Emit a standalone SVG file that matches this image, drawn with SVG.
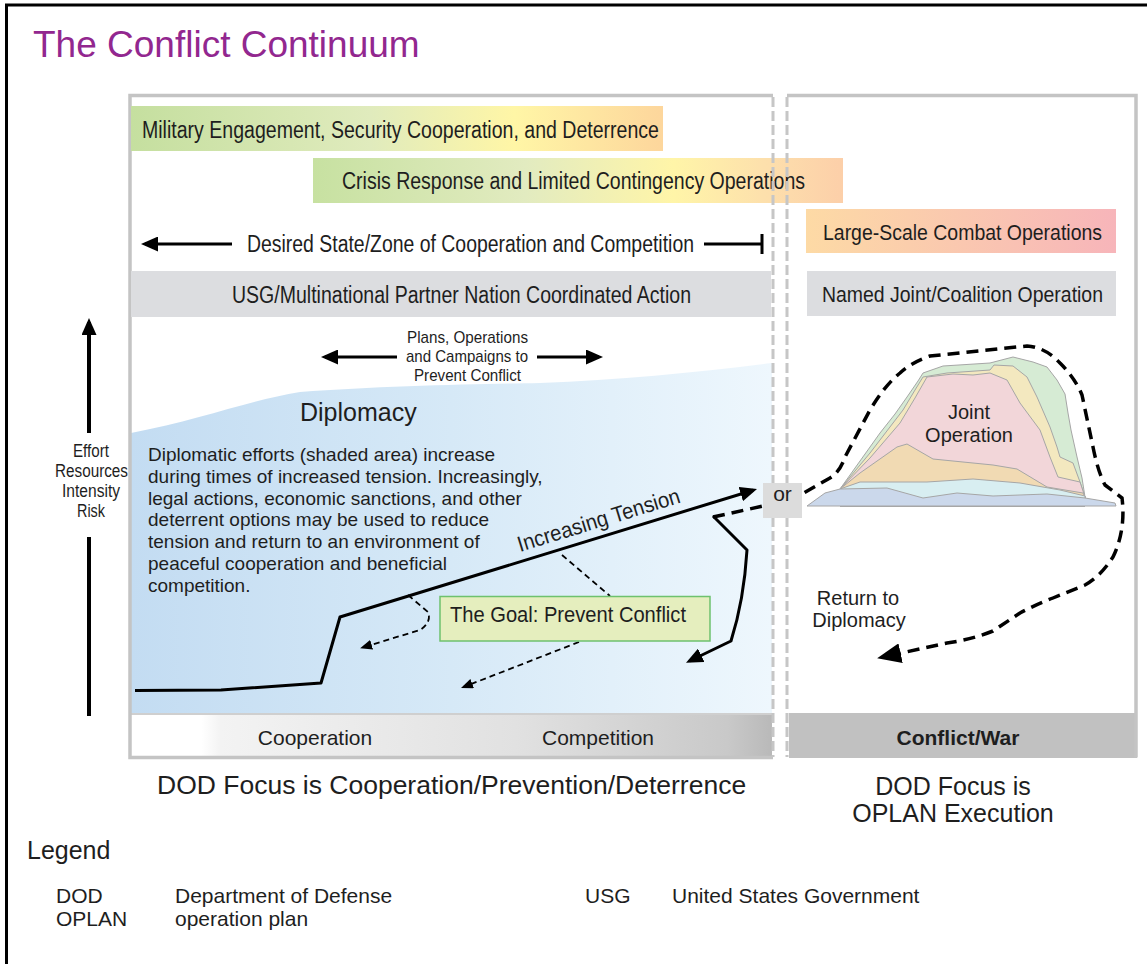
<svg xmlns="http://www.w3.org/2000/svg" width="1147" height="964" viewBox="0 0 1147 964">
<style>
.s{font-family:"Liberation Sans",Arial,Helvetica,sans-serif;fill:#1e1e1e}
.n{font-family:"Liberation Sans Narrow","Arial Narrow","Liberation Sans",Arial,sans-serif;fill:#1e1e1e}
.pb{fill:none;stroke:#c4c4c4;stroke-width:3.5}
.dv{fill:none;stroke:#c6c6c6;stroke-width:3;stroke-dasharray:10 4}
.sl{fill:none;stroke:#000;stroke-width:3;stroke-linejoin:round}
.ds{fill:none;stroke:#000;stroke-width:1.8;stroke-dasharray:6 4}
.lp{fill:none;stroke:#000;stroke-width:3.5;stroke-dasharray:12 7}
.ly{stroke:#a6a6a6;stroke-width:1}
</style>
<defs>
<linearGradient id="g1" x1="0" y1="0" x2="1" y2="0">
<stop offset="0" stop-color="#c5df9f"/><stop offset="0.45" stop-color="#e0ebbd"/><stop offset="0.72" stop-color="#fff6a6"/><stop offset="1" stop-color="#fdd69c"/>
</linearGradient>
<linearGradient id="g2" x1="0" y1="0" x2="1" y2="0">
<stop offset="0" stop-color="#c7e1a1"/><stop offset="0.4" stop-color="#e2ebc0"/><stop offset="0.68" stop-color="#fff5a8"/><stop offset="0.85" stop-color="#fde0ac"/><stop offset="1" stop-color="#fccfa9"/>
</linearGradient>
<linearGradient id="g3" x1="0" y1="0" x2="1" y2="0">
<stop offset="0" stop-color="#fddaa5"/><stop offset="1" stop-color="#f7b5ba"/>
</linearGradient>
<linearGradient id="gb" x1="0" y1="0" x2="1" y2="0">
<stop offset="0" stop-color="#c3dcf2"/><stop offset="0.5" stop-color="#d6e9f7"/><stop offset="1" stop-color="#eef7fd"/>
</linearGradient>
<linearGradient id="gg" x1="0" y1="0" x2="1" y2="0">
<stop offset="0" stop-color="#ffffff"/><stop offset="0.11" stop-color="#ffffff"/><stop offset="0.14" stop-color="#f3f3f3"/><stop offset="0.6" stop-color="#e1e1e1"/><stop offset="0.93" stop-color="#c9c9c9"/><stop offset="1" stop-color="#b9b9b9"/>
</linearGradient>
<marker id="ah" markerUnits="userSpaceOnUse" markerWidth="17" markerHeight="15" viewBox="0 0 17 15" refX="13" refY="7.5" orient="auto">
<path d="M0,0 L17,7.5 L0,15 Z" fill="#000"/>
</marker>
<marker id="ahs" markerUnits="userSpaceOnUse" markerWidth="12" markerHeight="10" viewBox="0 0 12 10" refX="9" refY="5" orient="auto">
<path d="M0,0 L12,5 L0,10 Z" fill="#000"/>
</marker>
<marker id="ahl" markerUnits="userSpaceOnUse" markerWidth="24" markerHeight="20" viewBox="0 0 24 20" refX="18" refY="10" orient="auto">
<path d="M0,0 L24,10 L0,20 Z" fill="#000"/>
</marker>
</defs>

<rect x="0" y="0" width="1147" height="964" fill="#ffffff"/>
<rect id="frame" x="6.5" y="5" width="1160" height="980" fill="none" stroke="#000" stroke-width="3"/>

<text id="title" class="s" x="33" y="57" font-size="37" style="fill:#92278f">The Conflict Continuum</text>

<g id="left-panel">
<path id="diplomacy-area" d="M131,433 C200,420 250,400 300,392 C380,386 480,384 540,383 C620,380 700,372 772,363 L772,713 L131,713 Z" fill="url(#gb)"/>
<rect x="131" y="713" width="641" height="44" fill="url(#gg)"/>
<line x1="131" y1="714" x2="772" y2="714" stroke="#cfcfcf" stroke-width="2"/>
<path class="pb" d="M773,95.5 L130,95.5 L130,757.5 L773,757.5"/>
<text class="s" x="315" y="745" font-size="21" text-anchor="middle">Cooperation</text>
<text class="s" x="598" y="745" font-size="21" text-anchor="middle">Competition</text>
</g>

<g id="right-panel">
<rect x="789" y="713" width="348" height="45" fill="#c1c1c1"/>
<path class="pb" d="M787,95.5 L1136,95.5 L1136,757.5"/>
<text class="s" x="958" y="745" font-size="21" font-weight="bold" text-anchor="middle">Conflict/War</text>
</g>

<g id="bar-military">
<rect x="131" y="106" width="532" height="45" fill="url(#g1)"/>
<text class="n" x="142" y="137.5" font-size="23" textLength="517" lengthAdjust="spacingAndGlyphs">Military Engagement, Security Cooperation, and Deterrence</text>
</g>
<g id="bar-crisis">
<rect x="313" y="158" width="530" height="45" fill="url(#g2)"/>
<text class="n" x="342" y="188.5" font-size="23" textLength="463" lengthAdjust="spacingAndGlyphs">Crisis Response and Limited Contingency Operations</text>
</g>
<g id="bar-usg">
<rect x="131" y="271" width="640" height="46" fill="#dcdde0"/>
<text class="n" x="232" y="302.5" font-size="23" textLength="459" lengthAdjust="spacingAndGlyphs">USG/Multinational Partner Nation Coordinated Action</text>
</g>
<g id="bar-lsco">
<rect x="806" y="209" width="310" height="44" fill="url(#g3)"/>
<text class="n" x="823" y="240" font-size="22" textLength="279" lengthAdjust="spacingAndGlyphs">Large-Scale Combat Operations</text>
</g>
<g id="bar-named">
<rect x="807" y="271" width="309" height="45" fill="#dcdde0"/>
<text class="n" x="822" y="302" font-size="22" textLength="281" lengthAdjust="spacingAndGlyphs">Named Joint/Coalition Operation</text>
</g>

<g id="dividers">
<line class="dv" x1="773" y1="97" x2="773" y2="757"/>
<line class="dv" x1="787" y1="97" x2="787" y2="757"/>
</g>

<g id="desired-state">
<text class="n" x="247" y="252" font-size="23" textLength="447" lengthAdjust="spacingAndGlyphs">Desired State/Zone of Cooperation and Competition</text>
</g>

<g id="plans">
<text class="n" x="407" y="343" font-size="17" textLength="121" lengthAdjust="spacingAndGlyphs">Plans, Operations</text>
<text class="n" x="406" y="362" font-size="17" textLength="122" lengthAdjust="spacingAndGlyphs">and Campaigns to</text>
<text class="n" x="414" y="381" font-size="17" textLength="107" lengthAdjust="spacingAndGlyphs">Prevent Conflict</text>
</g>

<g id="axis-label">
<text class="n" x="73" y="457" font-size="18" textLength="36" lengthAdjust="spacingAndGlyphs">Effort</text>
<text class="n" x="55" y="477" font-size="18" textLength="73" lengthAdjust="spacingAndGlyphs">Resources</text>
<text class="n" x="62" y="497" font-size="18" textLength="58" lengthAdjust="spacingAndGlyphs">Intensity</text>
<text class="n" x="77" y="517" font-size="18" textLength="28" lengthAdjust="spacingAndGlyphs">Risk</text>
</g>

<g id="diplomacy">
<text class="s" x="300" y="421" font-size="25">Diplomacy</text>
<text class="s" font-size="19">
<tspan x="148" y="461">Diplomatic efforts (shaded area) increase</tspan>
<tspan x="148" y="483">during times of increased tension. Increasingly,</tspan>
<tspan x="148" y="505">legal actions, economic sanctions, and other</tspan>
<tspan x="148" y="526">deterrent options may be used to reduce</tspan>
<tspan x="148" y="548">tension and return to an environment of</tspan>
<tspan x="148" y="570">peaceful cooperation and beneficial</tspan>
<tspan x="148" y="592">competition.</tspan>
</text>
</g>

<g id="joint-operation">
<polygon class="ly" fill="#d6ebd4" points="840,489 860,461 880,433 895,414 907,397 918,381 923,373 943,366 990,363 1013,357 1033,362 1047,367 1057,380 1065,394 1068,413 1071,430 1077,457 1082,478 1085,497 1085,506 840,506"/>
<polygon class="ly" fill="#f3e8bf" points="840,489 870,453 903,410 915,390 923,377 947,373 990,370 994,365 1013,366 1027,377 1037,397 1050,427 1057,447 1060,457 1073,463 1080,482 1085,497 1085,506 840,506"/>
<polygon class="ly" fill="#f2d6d9" points="840,489 870,458 900,423 915,398 927,377 953,374 973,375 990,373 1007,380 1020,403 1040,430 1050,457 1058,477 1080,482 1085,497 1085,506 840,506"/>
<polygon class="ly" fill="#f1dab3" points="840,489 860,473 897,447 907,444 933,459 993,465 1017,469 1047,487 1083,493 1085,497 1085,506 840,506"/>
<polygon class="ly" fill="#d8eef1" points="840,489 860,482 927,482 973,479 1020,483 1060,490 1085,496 1085,506 840,506"/>
<polygon class="ly" fill="#cbd8eb" points="807,506 825,493 840,489 887,488 923,498 957,493 993,496 1047,494 1085,498 1115,503 1116,506"/>
<text class="s" x="969" y="419" font-size="20" text-anchor="middle">Joint</text>
<text class="s" x="969" y="442" font-size="20" text-anchor="middle">Operation</text>
</g>

<g id="connectors">
<line class="sl" x1="232" y1="244" x2="145" y2="244" marker-end="url(#ah)"/>
<line class="sl" x1="704" y1="244" x2="762" y2="244"/>
<line class="sl" x1="762" y1="234" x2="762" y2="254"/>
<line class="sl" x1="397" y1="357" x2="325" y2="357" marker-end="url(#ah)"/>
<line class="sl" x1="537" y1="357" x2="599" y2="357" marker-end="url(#ah)"/>
<line x1="89" y1="433" x2="89" y2="322" stroke="#000" stroke-width="4" marker-end="url(#ah)"/>
<line x1="89" y1="537" x2="89" y2="716" stroke="#000" stroke-width="4"/>
<path class="sl" d="M135,690.5 L221,690 L321,683 L340,617 L753.2,490.2" marker-end="url(#ah)"/>
<path class="sl" d="M713,516 L747,550 Q744,600 731,641 L689.6,661" marker-end="url(#ah)"/>
<path class="ds" d="M408,595 L428,612 Q432,622 420,630 L363,647.3" marker-end="url(#ahs)"/>
<path class="ds" d="M562,555 L610,596"/>
<path class="ds" d="M579,642 L463.8,686.9" marker-end="url(#ahs)"/>
<path class="lp" d="M713,517 L763,506 L802,494 L830,478 Q840,472 845,457 L870,410 Q885,385 900,373 Q912,362 930,356 L1027,346 Q1045,347 1060,363 Q1075,378 1082,395 L1093,447 Q1098,472 1105,485 L1122,498 Q1126,530 1113,557 Q1100,577 1085,585 L1053,598 Q1035,605 1020,613 L993,631 Q970,640 947,643 L883,657" marker-end="url(#ahl)"/>
<text class="n" x="520" y="552" font-size="22" textLength="169" lengthAdjust="spacingAndGlyphs" transform="rotate(-17.1 520 552)">Increasing Tension</text>
</g>

<g id="goal">
<rect x="440" y="596.5" width="270" height="44.5" fill="#e5eebe" stroke="#6ec16e" stroke-width="1.5"/>
<text class="n" x="450" y="622" font-size="22" textLength="236" lengthAdjust="spacingAndGlyphs">The Goal: Prevent Conflict</text>
</g>

<g id="or">
<rect x="763" y="483" width="39" height="35" fill="#dcdcdc"/>
<text class="s" x="782.5" y="501" font-size="21" text-anchor="middle">or</text>
</g>

<g id="return">
<text class="s" x="858" y="605" font-size="20" text-anchor="middle">Return to</text>
<text class="s" x="859" y="627" font-size="20" text-anchor="middle">Diplomacy</text>
</g>

<g id="focus">
<text class="s" x="157" y="794" font-size="26.5">DOD Focus is Cooperation/Prevention/Deterrence</text>
<text class="s" x="953" y="795" font-size="25" text-anchor="middle">DOD Focus is</text>
<text class="s" x="953" y="822" font-size="25" text-anchor="middle">OPLAN Execution</text>
</g>

<g id="legend">
<text class="s" x="27" y="859" font-size="25">Legend</text>
<text class="s" x="56" y="903" font-size="21">DOD</text>
<text class="s" x="175" y="903" font-size="21">Department of Defense</text>
<text class="s" x="585" y="903" font-size="21">USG</text>
<text class="s" x="672" y="903" font-size="21">United States Government</text>
<text class="s" x="56" y="926" font-size="21">OPLAN</text>
<text class="s" x="175" y="926" font-size="21">operation plan</text>
</g>
</svg>
